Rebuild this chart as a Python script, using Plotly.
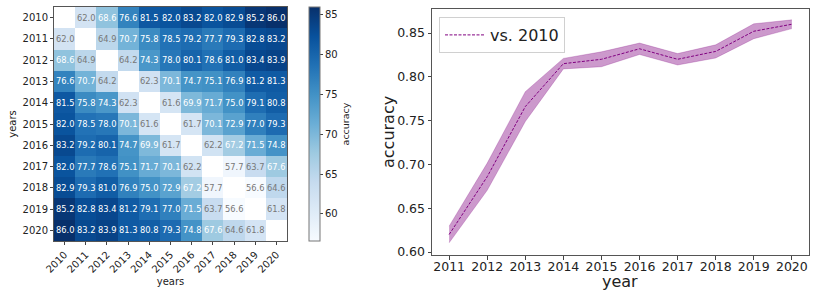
import plotly.graph_objects as go

years = [2010, 2011, 2012, 2013, 2014, 2015, 2016, 2017, 2018, 2019, 2020]
N = None
acc_matrix = [
    [N, 62.0, 68.6, 76.6, 81.5, 82.0, 83.2, 82.0, 82.9, 85.2, 86.0],
    [62.0, N, 64.9, 70.7, 75.8, 78.5, 79.2, 77.7, 79.3, 82.8, 83.2],
    [68.6, 64.9, N, 64.2, 74.3, 78.0, 80.1, 78.6, 81.0, 83.4, 83.9],
    [76.6, 70.7, 64.2, N, 62.3, 70.1, 74.7, 75.1, 76.9, 81.2, 81.3],
    [81.5, 75.8, 74.3, 62.3, N, 61.6, 69.9, 71.7, 75.0, 79.1, 80.8],
    [82.0, 78.5, 78.0, 70.1, 61.6, N, 61.7, 70.1, 72.9, 77.0, 79.3],
    [83.2, 79.2, 80.1, 74.7, 69.9, 61.7, N, 62.2, 67.2, 71.5, 74.8],
    [82.0, 77.7, 78.6, 75.1, 71.7, 70.1, 62.2, N, 57.7, 63.7, 67.6],
    [82.9, 79.3, 81.0, 76.9, 75.0, 72.9, 67.2, 57.7, N, 56.6, 64.6],
    [85.2, 82.8, 83.4, 81.2, 79.1, 77.0, 71.5, 63.7, 56.6, N, 61.8],
    [86.0, 83.2, 83.9, 81.3, 80.8, 79.3, 74.8, 67.6, 64.6, 61.8, N],
]

line_years = [2011, 2012, 2013, 2014, 2015, 2016, 2017, 2018, 2019, 2020]
mean_acc = [0.620, 0.686, 0.766, 0.815, 0.820, 0.832, 0.820, 0.829, 0.852, 0.860]
std_acc = [0.0095, 0.0155, 0.017, 0.006, 0.0085, 0.0065, 0.0065, 0.0075, 0.0085, 0.005]

blues = [
    [0.0, "#f7fbff"], [0.125, "#deebf7"], [0.25, "#c6dbef"], [0.375, "#9ecae1"],
    [0.5, "#6baed6"], [0.625, "#4292c6"], [0.75, "#2171b5"], [0.875, "#08519c"],
    [1.0, "#08306b"],
]

FONT = "DejaVu Sans"
fig = go.Figure()

fig.add_trace(go.Heatmap(
    x=years, y=years, z=acc_matrix, zmin=56.6, zmax=86.0,
    colorscale=blues, xaxis="x", yaxis="y", hoverongaps=False,
    colorbar=dict(
        x=309 / 814, xanchor="left", y=55 / 296, yanchor="bottom",
        len=234 / 296, lenmode="fraction", thickness=11, thicknessmode="pixels",
        outlinecolor="#777", outlinewidth=1, xpad=0, ypad=0,
        tickvals=[60, 65, 70, 75, 80, 85], ticks="outside", ticklen=3,
        tickcolor="#444", tickfont=dict(family=FONT, size=10, color="#222"),
        title=dict(text="accuracy", side="right", font=dict(family=FONT, size=9.5, color="#222")),
    ),
))

annotations = []
for i, ry in enumerate(years):
    for j, cx in enumerate(years):
        v = acc_matrix[i][j]
        if v is None:
            continue
        annotations.append(dict(
            x=cx, y=ry, xref="x", yref="y", text=f"{v:.1f}", showarrow=False,
            font=dict(family=FONT, size=8.3, color="white" if v >= 66 else "#777"),
        ))

# right-panel axis titles placed precisely
annotations.append(dict(text="accuracy", x=388 / 814, y=(296 - 132) / 296, xref="paper", yref="paper",
                        textangle=-90, showarrow=False, xanchor="center", yanchor="middle",
                        font=dict(family=FONT, size=16, color="#222")))
annotations.append(dict(text="year", x=620 / 814, y=(296 - 281) / 296, xref="paper", yref="paper",
                        showarrow=False, xanchor="center", yanchor="middle",
                        font=dict(family=FONT, size=16, color="#222")))

upper = [m + s for m, s in zip(mean_acc, std_acc)]
lower = [m - s for m, s in zip(mean_acc, std_acc)]
fig.add_trace(go.Scatter(x=line_years, y=upper, mode="lines", line=dict(width=0.6, color="rgba(128,0,128,0.4)"),
                         xaxis="x2", yaxis="y2", showlegend=False, hoverinfo="skip"))
fig.add_trace(go.Scatter(x=line_years, y=lower, mode="lines", line=dict(width=0.6, color="rgba(128,0,128,0.4)"),
                         fill="tonexty", fillcolor="rgba(128,0,128,0.4)",
                         xaxis="x2", yaxis="y2", showlegend=False, hoverinfo="skip"))
fig.add_trace(go.Scatter(x=line_years, y=mean_acc, mode="lines", name="vs. 2010",
                         line=dict(color="purple", width=1, dash="3px,1.5px"),
                         xaxis="x2", yaxis="y2"))

tickfont_h = dict(family=FONT, size=10, color="#222")
tickfont_r = dict(family=FONT, size=12.5, color="#222")

fig.update_layout(
    width=814, height=296, margin=dict(l=0, r=0, t=0, b=0, autoexpand=False),
    paper_bgcolor="white", plot_bgcolor="white",
    font=dict(family=FONT, color="#222"),
    annotations=annotations,
    xaxis=dict(domain=[54 / 814, 287 / 814], range=[2009.5, 2020.5], tickvals=years,
               tickangle=-45, ticks="outside", ticklen=3, tickcolor="#444", tickfont=tickfont_h,
               showgrid=False, zeroline=False, showline=True, linecolor="#555", mirror=True,
               automargin=False,
               title=dict(text="years", font=dict(family=FONT, size=10), standoff=4)),
    yaxis=dict(domain=[55 / 296, 289 / 296], range=[2020.5, 2009.5], tickvals=years,
               ticks="outside", ticklen=3, tickcolor="#444", tickfont=tickfont_h,
               showgrid=False, zeroline=False, showline=True, linecolor="#555", mirror=True,
               automargin=False,
               title=dict(text="years", font=dict(family=FONT, size=10), standoff=4)),
    xaxis2=dict(domain=[432 / 814, 809 / 814], range=[2010.55, 2020.45], tickvals=line_years,
                ticks="outside", ticklen=3.5, tickcolor="#444", tickfont=tickfont_r,
                ticklabelstandoff=-4,
                showgrid=False, zeroline=False, showline=True, linecolor="#555", mirror=True,
                anchor="y2", automargin=False),
    yaxis2=dict(domain=[41 / 296, 287 / 296], range=[0.5966, 0.8774],
                tickvals=[0.60, 0.65, 0.70, 0.75, 0.80, 0.85], tickformat=".2f",
                ticks="outside", ticklen=3.5, tickcolor="#444", tickfont=tickfont_r,
                showgrid=False, zeroline=False, showline=True, linecolor="#555", mirror=True,
                anchor="x2", automargin=False),
    legend=dict(x=439 / 814, y=279 / 296, xanchor="left", yanchor="top",
                bordercolor="#d0d0d0", borderwidth=1, bgcolor="rgba(255,255,255,0.8)",
                font=dict(family=FONT, size=16, color="#222"), itemwidth=40,
                tracegroupgap=0),
)

fig.write_html("out.html", config={"displayModeBar": False},
               post_script="document.body.style.margin='0px';")
